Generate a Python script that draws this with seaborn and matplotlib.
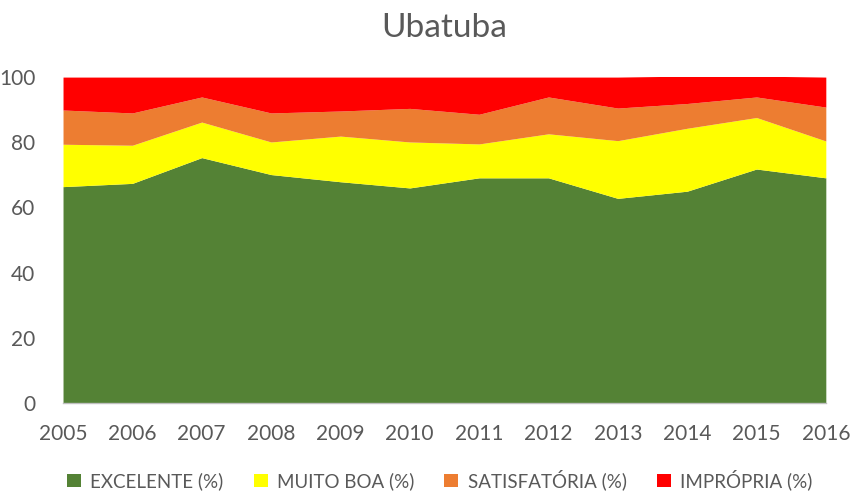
import matplotlib
matplotlib.use('Agg')
import matplotlib.pyplot as plt
import seaborn as sns
from matplotlib.patches import Patch

# --- Data ---
anos = [2005, 2006, 2007, 2008, 2009, 2010, 2011, 2012, 2013, 2014, 2015, 2016]
excelente = [66.4, 67.4, 75.3, 70.1, 67.9, 66.0, 69.1, 69.1, 62.8, 65.0, 71.8, 69.1]
muito_boa = [13.0, 11.7, 10.9, 10.0, 14.0, 14.1, 10.4, 13.5, 17.7, 19.3, 15.8, 11.3]
satisfatoria = [10.5, 9.9, 7.7, 8.9, 7.7, 10.3, 9.1, 11.3, 10.0, 7.6, 6.3, 10.4]
impropria = [10.1, 11.0, 6.1, 11.0, 10.4, 9.6, 11.4, 6.1, 9.5, 8.4, 6.4, 9.2]

series_labels = ['EXCELENTE (%)', 'MUITO BOA (%)', 'SATISFATÓRIA (%)', 'IMPRÓPRIA (%)']
cores = ['#548235', '#FFFF00', '#ED7D31', '#FF0000']
y_ticks = [0, 20, 40, 60, 80, 100]

TEXT = '#595959'

sns.set_theme(style='white')
plt.rcParams['font.family'] = ['Lato', 'DejaVu Sans']

fig = plt.figure(figsize=(8.54, 4.91), dpi=100)
ax = fig.add_axes([0.0738, 0.179, 0.8932, 0.664])

ax.stackplot(anos, excelente, muito_boa, satisfatoria, impropria,
             colors=cores, linewidth=0)

ax.set_xlim(anos[0], anos[-1])
ax.set_ylim(0, 100)
ax.set_xticks(anos)
ax.set_yticks(y_ticks)
ax.tick_params(axis='x', colors='#BFBFBF', length=5, width=1, direction='out',
               labelcolor=TEXT, labelsize=15, pad=10)
ax.tick_params(axis='y', length=0, labelcolor=TEXT, labelsize=15, pad=20)

for s in ['top', 'right', 'left']:
    ax.spines[s].set_visible(False)
ax.spines['bottom'].set_color('#BFBFBF')
ax.spines['bottom'].set_linewidth(1)

ax.set_title('Ubatuba', fontsize=24, color=TEXT, pad=29)

handles = [Patch(facecolor=c, edgecolor='none') for c in cores]
fig.legend(handles, series_labels, loc='center', bbox_to_anchor=(0.515, 0.023),
           ncol=4, frameon=False, fontsize=13.5, labelcolor=TEXT,
           handlelength=0.75, handleheight=0.75, handletextpad=0.5, columnspacing=1.6)

fig.savefig('out.png', dpi=100)
